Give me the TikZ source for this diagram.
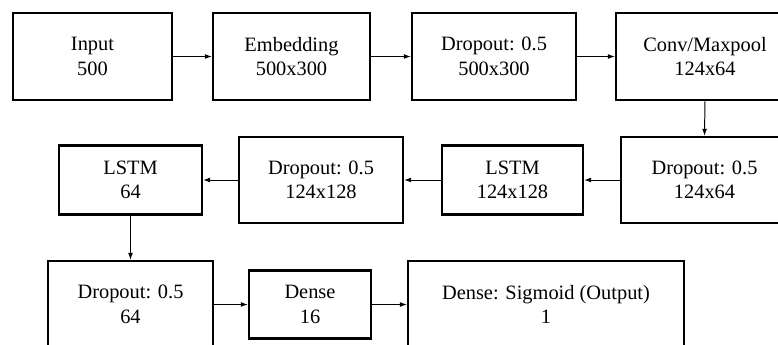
\documentclass[tikz,border=0pt]{standalone}
\usepackage{fontspec}
\setmainfont{Liberation Serif}
\usepackage{tikz}
\usetikzlibrary{arrows.meta}

\newcommand{\px}{0.025cm}

\begin{document}
\begin{tikzpicture}[x=0.025cm,y=-0.025cm,
	layer/.style={draw, line width=1.6pt, align=center, inner sep=0pt,
		font=\fontsize{14.5}{17.5}\selectfont},
	flow/.style={line width=0.7pt, -{Latex[length=5pt,width=3.5pt]}}]
\clip (0,0) rectangle (778,344);
% first row
\node[layer, minimum width=159*\px, minimum height=87*\px] (input) at (92.5,56.5) {Input\\500};
\node[layer, minimum width=157*\px, minimum height=87*\px] (embed) at (291.5,56.5) {Embedding\\500x300};
\node[layer, minimum width=164*\px, minimum height=87*\px] (dropa) at (494,56.5) {Dropout: 0.5\\500x300};
\node[layer, minimum width=178*\px, minimum height=87*\px] (conv) at (705,56.5) {Conv/Maxpool\\124x64};
% second row
\node[layer, minimum width=167*\px, minimum height=86*\px] (dropb) at (704.5,180) {Dropout: 0.5\\124x64};
\node[layer, minimum width=141*\px, minimum height=69*\px] (lstma) at (512.5,180) {LSTM\\124x128};
\node[layer, minimum width=164*\px, minimum height=86*\px] (dropc) at (321,180) {Dropout: 0.5\\124x128};
\node[layer, minimum width=143*\px, minimum height=69*\px] (lstmb) at (130.5,180) {LSTM\\64};
% third row
\node[layer, minimum width=165*\px, minimum height=87*\px] (dropd) at (130.5,304.5) {Dropout: 0.5\\64};
\node[layer, minimum width=122*\px, minimum height=68*\px] (dense) at (310,304.5) {Dense\\16};
\node[layer, minimum width=276*\px, minimum height=87*\px] (output) at (546,304.5) {Dense: Sigmoid (Output)\\1};

\draw[flow] (input) -- (embed);
\draw[flow] (embed) -- (dropa);
\draw[flow] (dropa) -- (conv);
\draw[flow] (conv.south) -- (dropb.north);
\draw[flow] (dropb) -- (lstma);
\draw[flow] (lstma) -- (dropc);
\draw[flow] (dropc) -- (lstmb);
\draw[flow] (lstmb) -- (dropd);
\draw[flow] (dropd) -- (dense);
\draw[flow] (dense) -- (output);
\end{tikzpicture}
\end{document}
